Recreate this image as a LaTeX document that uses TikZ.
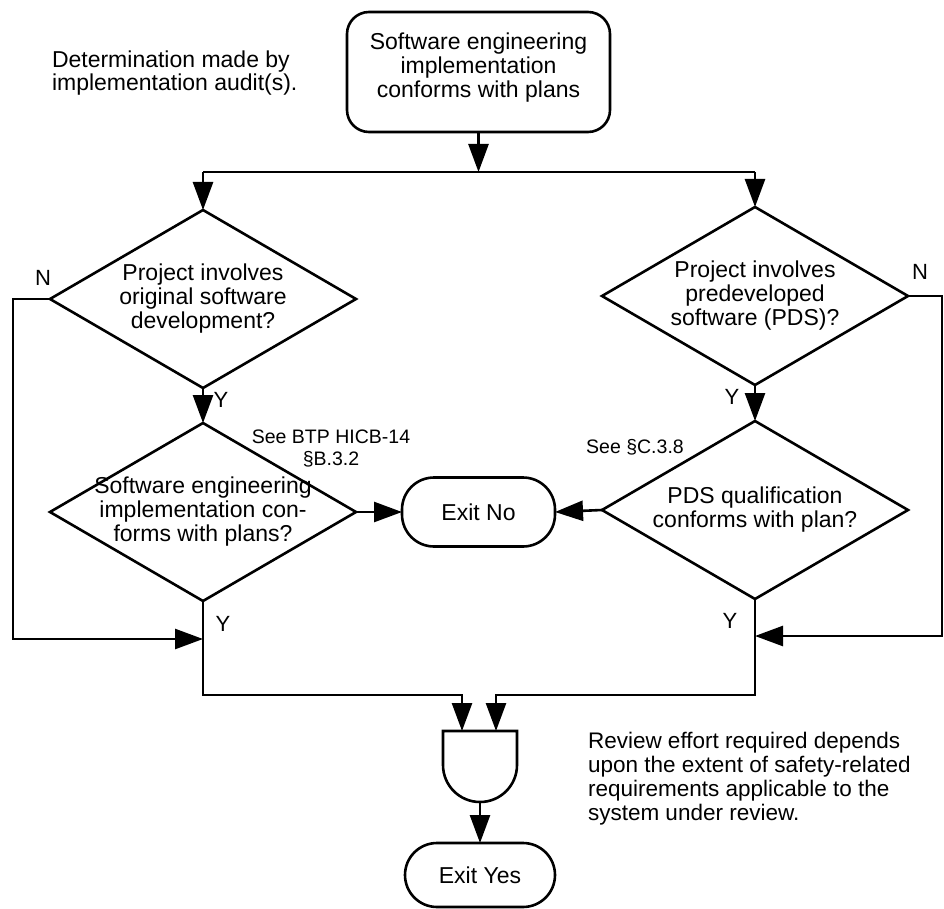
\documentclass[tikz,border=0pt]{standalone}
\usepackage{fontspec}
\setmainfont{Liberation Sans}
\usetikzlibrary{arrows.meta,shapes.geometric}
\begin{document}
\begin{tikzpicture}[x=1pt,y=-1pt,
  line width=2.6pt,
  every node/.style={inner sep=0pt, outer sep=0pt},
  txt/.style={font=\fontsize{23}{24}\selectfont, align=center},
  note/.style={font=\fontsize{23}{23.5}\selectfont, align=left},
  small/.style={font=\fontsize{19.5}{22}\selectfont, align=center},
  yn/.style={font=\fontsize{22}{24}\selectfont},
  decision/.style={draw, diamond, minimum width=306pt, minimum height=178pt},
  terminal/.style={draw, rounded corners=32pt, txt},
  arr/.style={-{Triangle[length=28pt,width=20pt]}}
]
\useasboundingbox (0,0) rectangle (944,909);

% boxes and decisions
\node[draw, rounded corners=22pt, minimum width=263pt, minimum height=120pt,
      label={[txt,yshift=4pt]center:Software engineering\\implementation\\conforms with plans}]
      (start) at (478.5,72) {};
\coordinate (split) at (478.5,172);

\node[decision, label={[txt]center:Project involves\\original software\\development?}]
      (d1) at (203,299) {};
\node[decision, label={[txt]center:Project involves\\predeveloped\\software (PDS)?}]
      (d2) at (755,296) {};
\node[decision, label={[txt]center:Software engineering\\implementation con-\\forms with plans?}]
      (d3) at (203,512) {};
\node[decision, label={[txt]center:PDS qualification\\conforms with plan?}]
      (d4) at (755,510) {};

\node[terminal, minimum width=153pt, minimum height=69pt] (exitno) at (478.5,512) {Exit No};

% AND gate
\node[minimum width=74pt, minimum height=71pt] (gate) at (480,766.5) {};
\draw (gate.north west) -- (gate.north east) -- ++(0,34)
      arc[start angle=0, end angle=-180, radius=37pt] -- cycle;

\node[terminal, minimum width=150pt, minimum height=64pt] (exityes) at (480,875) {Exit Yes};

% connectors
\draw[arr] (start.south) -- (split);
\draw (d1.north |- split) -- (d2.north |- split);
\draw[arr] (d1.north |- split) -- (d1.north);
\draw[arr] (d2.north |- split) -- (d2.north);

\draw[arr] (d1.south) -- (d3.north);
\draw[arr] (d2.south) -- (d4.north);
\draw[arr] (d3.east) -- (exitno.west);
\draw[arr] (d4.west) -- (exitno.east);

\coordinate (nl) at (13,639);
\coordinate (nr) at (942,636);
\draw[arr] (d1.west) -| (nl) -- (d3.south |- nl);
\draw[arr] (d2.east) -| (nr) -- (d4.south |- nr);

\coordinate (mergeL) at (462,695);
\coordinate (mergeR) at (496,695);
\draw[arr] (d3.south) |- (mergeL) -- (gate.north west -| mergeL);
\draw[arr] (d4.south) |- (mergeR) -- (gate.north west -| mergeR);
\draw[arr] (gate.south) -- (exityes.north);

% branch labels
\node[yn] (nL) at (43,278) {N};
\node[yn] (nR) at (920,272) {N};
\node[yn] (y1) at (221,400) {Y};
\node[yn] (y2) at (732,397) {Y};
\node[yn] (y3) at (223,624) {Y};
\node[yn] (y4) at (730,621) {Y};

% references
\node[small] (refB) at (331,449) {See BTP HICB-14\\\S B.3.2};
\node[small] (refC) at (635,447) {See \S C.3.8};

% notes
\node[note, anchor=west] (audit) at (52,73) {Determination made by\\implementation audit(s).};
\node[note, anchor=west, font=\fontsize{22.5}{24}\selectfont] (effort) at (588,779)
  {Review effort required depends\\upon the extent of safety-related\\requirements applicable to the\\system under review.};
\end{tikzpicture}
\end{document}
